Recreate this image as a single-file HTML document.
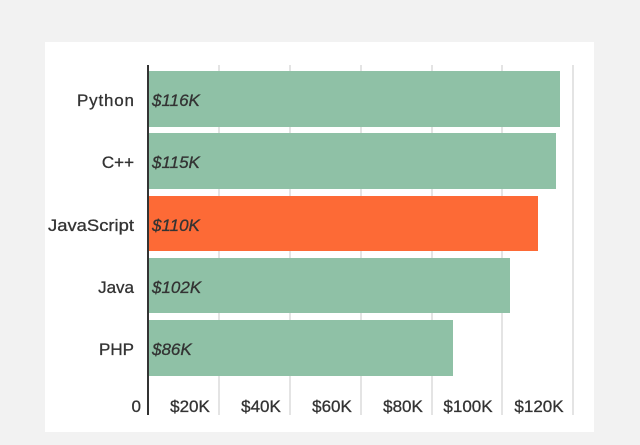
<!DOCTYPE html>
<html><head><style>
body{margin:0;background:#f2f2f2;}
svg{display:block;font-family:"Liberation Sans",sans-serif;}
</style></head><body>
<svg width="640" height="445" viewBox="0 0 640 445">
<rect width="640" height="445" fill="#f2f2f2"/>
<rect x="45" y="42" width="549" height="390" fill="#fff"/>
<g stroke="#c8c8c8" stroke-width="1">
<line x1="219" y1="65" x2="219" y2="415"/>
<line x1="290" y1="65" x2="290" y2="415"/>
<line x1="361" y1="65" x2="361" y2="415"/>
<line x1="432" y1="65" x2="432" y2="415"/>
<line x1="502" y1="65" x2="502" y2="415"/>
<line x1="573" y1="65" x2="573" y2="415"/>
</g>
<g fill="#8fc1a6">
<rect x="149" y="71" width="411" height="56"/>
<rect x="149" y="133" width="407" height="56"/>
<rect x="149" y="258" width="361" height="55"/>
<rect x="149" y="320" width="304" height="56"/>
</g>
<rect x="149" y="196" width="389" height="55" fill="#fd6a36"/>
<line x1="148" y1="65" x2="148" y2="415" stroke="#333" stroke-width="2"/>
<g font-size="17" fill="#333" font-style="italic" stroke="#333" stroke-width="0.3">
<text x="152" y="106">$116K</text>
<text x="152" y="168">$115K</text>
<text x="152" y="231">$110K</text>
<text x="152" y="293">$102K</text>
<text x="152" y="355">$86K</text>
</g>
<g font-size="17" fill="#333" text-anchor="end" stroke="#333" stroke-width="0.3">
<text x="134" y="106" textLength="57">Python</text>
<text x="134" y="168">C++</text>
<text x="134" y="231" textLength="86" lengthAdjust="spacingAndGlyphs">JavaScript</text>
<text x="134" y="293">Java</text>
<text x="134" y="355">PHP</text>
<text x="141" y="412">0</text>
</g>
<g font-size="17" fill="#333" text-anchor="middle" stroke="#333" stroke-width="0.3">
<text x="190" y="412">$20K</text>
<text x="261" y="412">$40K</text>
<text x="332" y="412">$60K</text>
<text x="403" y="412">$80K</text>
<text x="468" y="412">$100K</text>
<text x="539" y="412">$120K</text>
</g>
</svg>
</body></html>
